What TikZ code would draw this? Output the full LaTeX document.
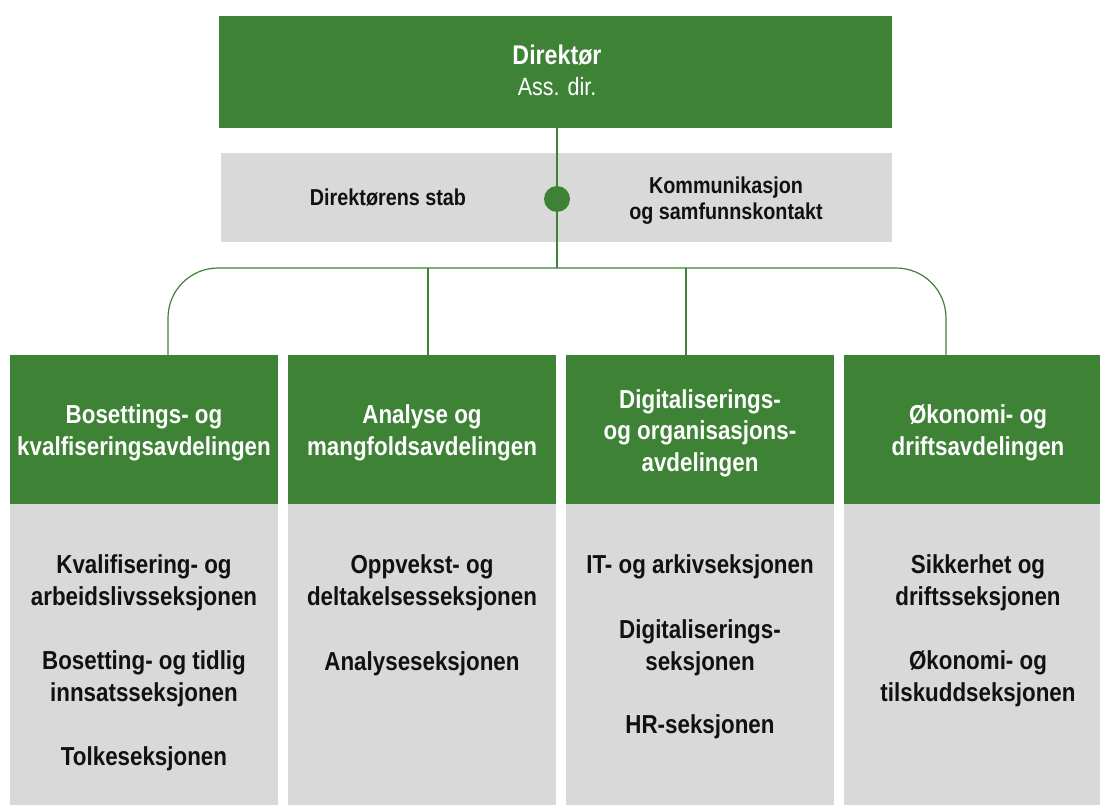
\documentclass[tikz,border=0pt]{standalone}
\usepackage{fontspec}
\setmainfont{Liberation Sans}[FakeStretch=0.86]
\definecolor{grn}{RGB}{62,130,54}
\definecolor{gry}{RGB}{217,217,217}
\definecolor{ink}{RGB}{17,17,17}
\begin{document}
\begin{tikzpicture}[x=1pt,y=-1pt,
  greenbox/.style={fill=grn,draw=none,inner sep=0,outer sep=0,rectangle},
  graybox/.style={fill=gry,draw=none,inner sep=0,outer sep=0,rectangle},
  colhead/.style={greenbox,minimum width=268pt,minimum height=149pt},
  colbody/.style={graybox,minimum width=268pt,minimum height=306pt},
  headtxt/.style={anchor=base,align=center,text=white,inner sep=0,
    font=\fontsize{26}{31.5}\selectfont\bfseries},
  itemtxt/.style={anchor=base,align=center,text=ink,inner sep=0,
    font=\fontsize{26}{31.5}\selectfont\bfseries},
  stabtxt/.style={anchor=base,align=center,text=ink,inner sep=0,
    font=\fontsize{23}{26}\selectfont\bfseries},
  conn/.style={draw=grn,line width=1.2pt}]
\useasboundingbox (0,0) rectangle (1100,805);
\clip (0,0) rectangle (1100,805);

% director
\node[greenbox,minimum width=673pt,minimum height=112pt] (dir) at (555.5,72) {};
\node[headtxt,font=\fontsize{27}{31}\selectfont\bfseries] (dirT) at (557,96)
  {Direktør\\\fontsize{25}{31}\selectfont\mdseries Ass. dir.};

% staff bar
\node[graybox,minimum width=671pt,minimum height=89pt] (stab) at (556.5,197.5) {};
\node[stabtxt] (stabL) at (388,206) {Direktørens stab};
\node[stabtxt] (stabR) at (726,219) {Kommunikasjon\\og samfunnskontakt};

% columns
\node[colhead] (h1) at (144,429.5) {};
\node[colhead] (h2) at (422,429.5) {};
\node[colhead] (h3) at (700,429.5) {};
\node[colhead] (h4) at (978,429.5) {};
\node[colbody] (b1) at (144,657) {};
\node[colbody] (b2) at (422,657) {};
\node[colbody] (b3) at (700,657) {};
\node[colbody] (b4) at (978,657) {};

\node[headtxt] (h1T) at (144,455) {Bosettings- og\\kvalfiseringsavdelingen};
\node[headtxt] (h2T) at (422,455) {Analyse og\\mangfoldsavdelingen};
\node[headtxt] (h3T) at (700,471) {Digitaliserings-\\og organisasjons-\\avdelingen};
\node[headtxt] (h4T) at (978,455) {Økonomi- og\\driftsavdelingen};

% items
\node[itemtxt] (i11) at (144,605) {Kvalifisering- og\\arbeidslivsseksjonen};
\node[itemtxt] (i12) at (144,701) {Bosetting- og tidlig\\innsatsseksjonen};
\node[itemtxt] (i13) at (144,765) {Tolkeseksjonen};
\node[itemtxt] (i21) at (422,605) {Oppvekst- og\\deltakelsesseksjonen};
\node[itemtxt] (i22) at (422,670) {Analyseseksjonen};
\node[itemtxt] (i31) at (700,573) {IT- og arkivseksjonen};
\node[itemtxt] (i32) at (700,670) {Digitaliserings-\\seksjonen};
\node[itemtxt] (i33) at (700,733) {HR-seksjonen};
\node[itemtxt] (i41) at (978,605) {Sikkerhet og\\driftsseksjonen};
\node[itemtxt] (i42) at (978,701) {Økonomi- og\\tilskuddseksjonen};

% connectors
\coordinate (bus) at (557,268);
\coordinate (t1) at (168,355);
\coordinate (t2) at (428,355);
\coordinate (t3) at (686,355);
\coordinate (t4) at (946,355);
\draw[conn] (dir.south -| bus) -- (bus);
\draw[conn,rounded corners=50pt] (t1) |- (bus) -| (t4);
\draw[conn] (t2) -- (t2 |- bus);
\draw[conn] (t3) -- (t3 |- bus);
\node[circle,fill=grn,minimum size=26pt,inner sep=0] (dot) at (557,199) {};
\end{tikzpicture}
\end{document}
